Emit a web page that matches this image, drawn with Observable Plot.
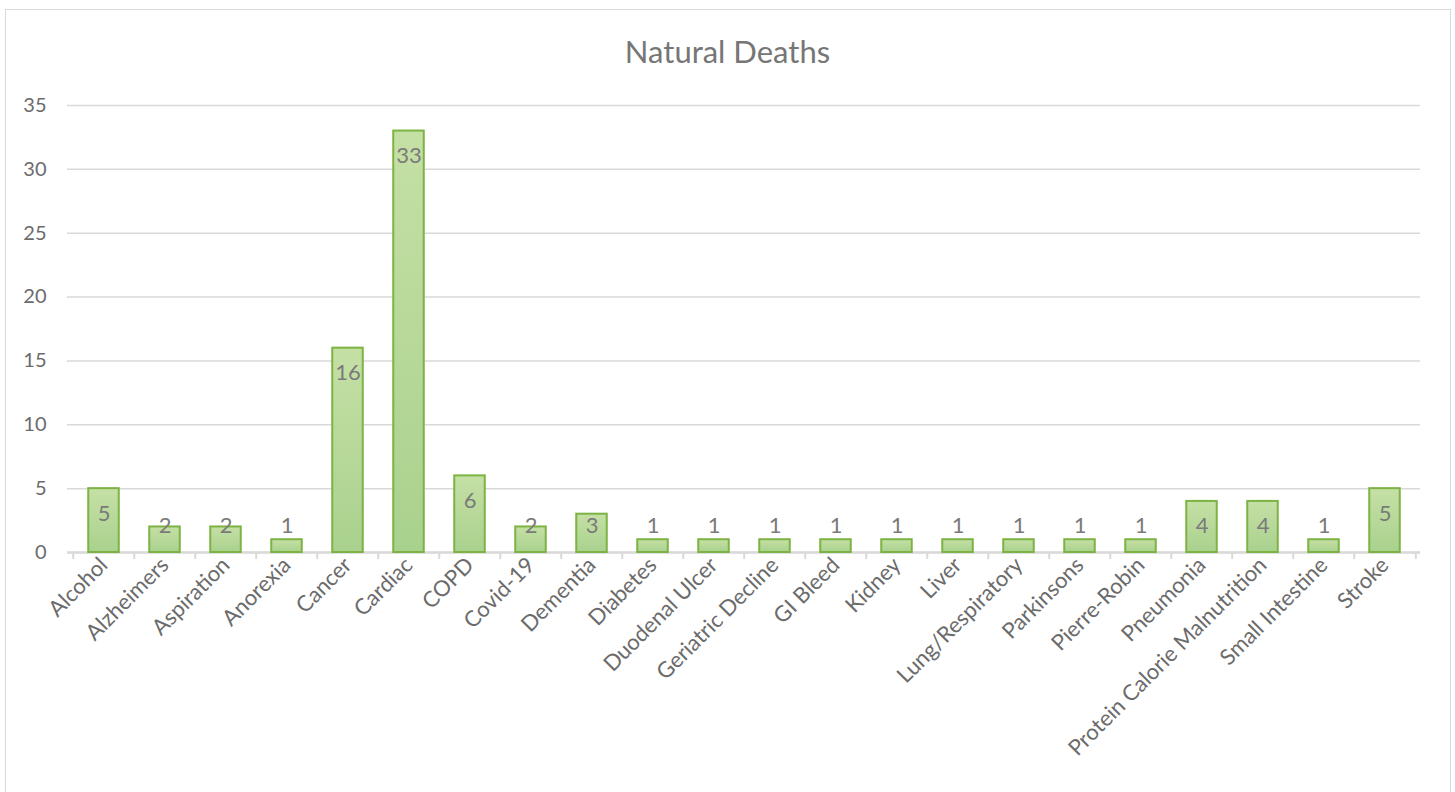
<!DOCTYPE html>
<html><head><meta charset="utf-8">
<script src="https://cdn.jsdelivr.net/npm/d3@7"></script>
<script src="https://cdn.jsdelivr.net/npm/@observablehq/plot@0.6"></script>
<style>
body{margin:0;background:#fff;font-family:Lato,"Open Sans",sans-serif;overflow:hidden;}
#frame{position:absolute;left:5px;top:9px;width:1446px;height:800px;border:1.5px solid #d9d9d9;box-sizing:border-box;}
#title{position:absolute;left:0;width:1455px;top:32px;text-align:center;font-size:31px;color:#767676;}
#chart{position:absolute;left:0;top:80px;}
</style></head><body>
<div id="frame"></div><div id="title">Natural Deaths</div><div id="chart"></div>
<script>
const categories = ["Alcohol","Alzheimers","Aspiration","Anorexia","Cancer","Cardiac","COPD","Covid-19","Dementia","Diabetes","Duodenal Ulcer","Geriatric Decline","GI Bleed","Kidney","Liver","Lung/Respiratory","Parkinsons","Pierre-Robin","Pneumonia","Protein Calorie Malnutrition","Small Intestine","Stroke"];
const values = [5,2,2,1,16,33,6,2,3,1,1,1,1,1,1,1,1,1,4,4,1,5];
const yTicks = [0,5,10,15,20,25,30,35];

const data = categories.map((c,i)=>({cat:c, value:values[i]}));

const W = 1455, H = 712, mt = 25, mb = 240, ml = 67, mr = 35;
const step = (W - ml - mr) / categories.length;
const pxPerUnit = (H - mt - mb) / 35;
const tickLen = 7 / pxPerUnit;
const grid = "#d9d9d9", textCol = "#6b6b6b";

const plot = Plot.plot({
  width: W, height: H, marginTop: mt, marginBottom: mb, marginLeft: ml, marginRight: mr,
  style: {fontFamily: "Lato, 'Open Sans', sans-serif", color: textCol, background: "transparent"},
  x: {domain: categories, padding: 0, label: null},
  y: {domain: [0, 35], label: null},
  marks: [
    Plot.gridY(yTicks, {stroke: grid, strokeOpacity: 1, strokeWidth: 1.5}),
    Plot.axisY(yTicks, {tickSize: 0, tickPadding: 21, fontSize: 20, fill: textCol, label: null}),
    Plot.ruleX(categories, {x: d => d, dx: -step/2, y1: 0, y2: -tickLen, stroke: grid, strokeWidth: 2}),
    Plot.ruleX([categories[categories.length-1]], {x: d => d, dx: step/2, y1: 0, y2: -tickLen, stroke: grid, strokeWidth: 2}),
    Plot.ruleY([0], {stroke: grid, strokeWidth: 2.5}),
    Plot.barY(data, {x: "cat", y: "value", fill: "url(#barGrad)", stroke: "#7cb342", strokeWidth: 2, insetLeft: (step-31)/2, insetRight: (step-31)/2}),
    Plot.text(data, {x: "cat", y: d => Math.max(d.value, 4), dy: 25, text: d => String(d.value), fontSize: 22, fill: "#7a7a7a"}),
    Plot.axisX({tickSize: 0, tickPadding: 9, tickRotate: -45, fontSize: 22, fill: textCol, label: null})
  ]
});

const svg = d3.select(plot);
const defs = svg.insert("defs", ":first-child");
const g = defs.append("linearGradient").attr("id","barGrad").attr("x1",0).attr("y1",0).attr("x2",0).attr("y2",1);
g.append("stop").attr("offset","0%").attr("stop-color","#c5e0a5");
g.append("stop").attr("offset","100%").attr("stop-color","#a9d18e");

document.getElementById("chart").appendChild(plot);
</script>
</body></html>
